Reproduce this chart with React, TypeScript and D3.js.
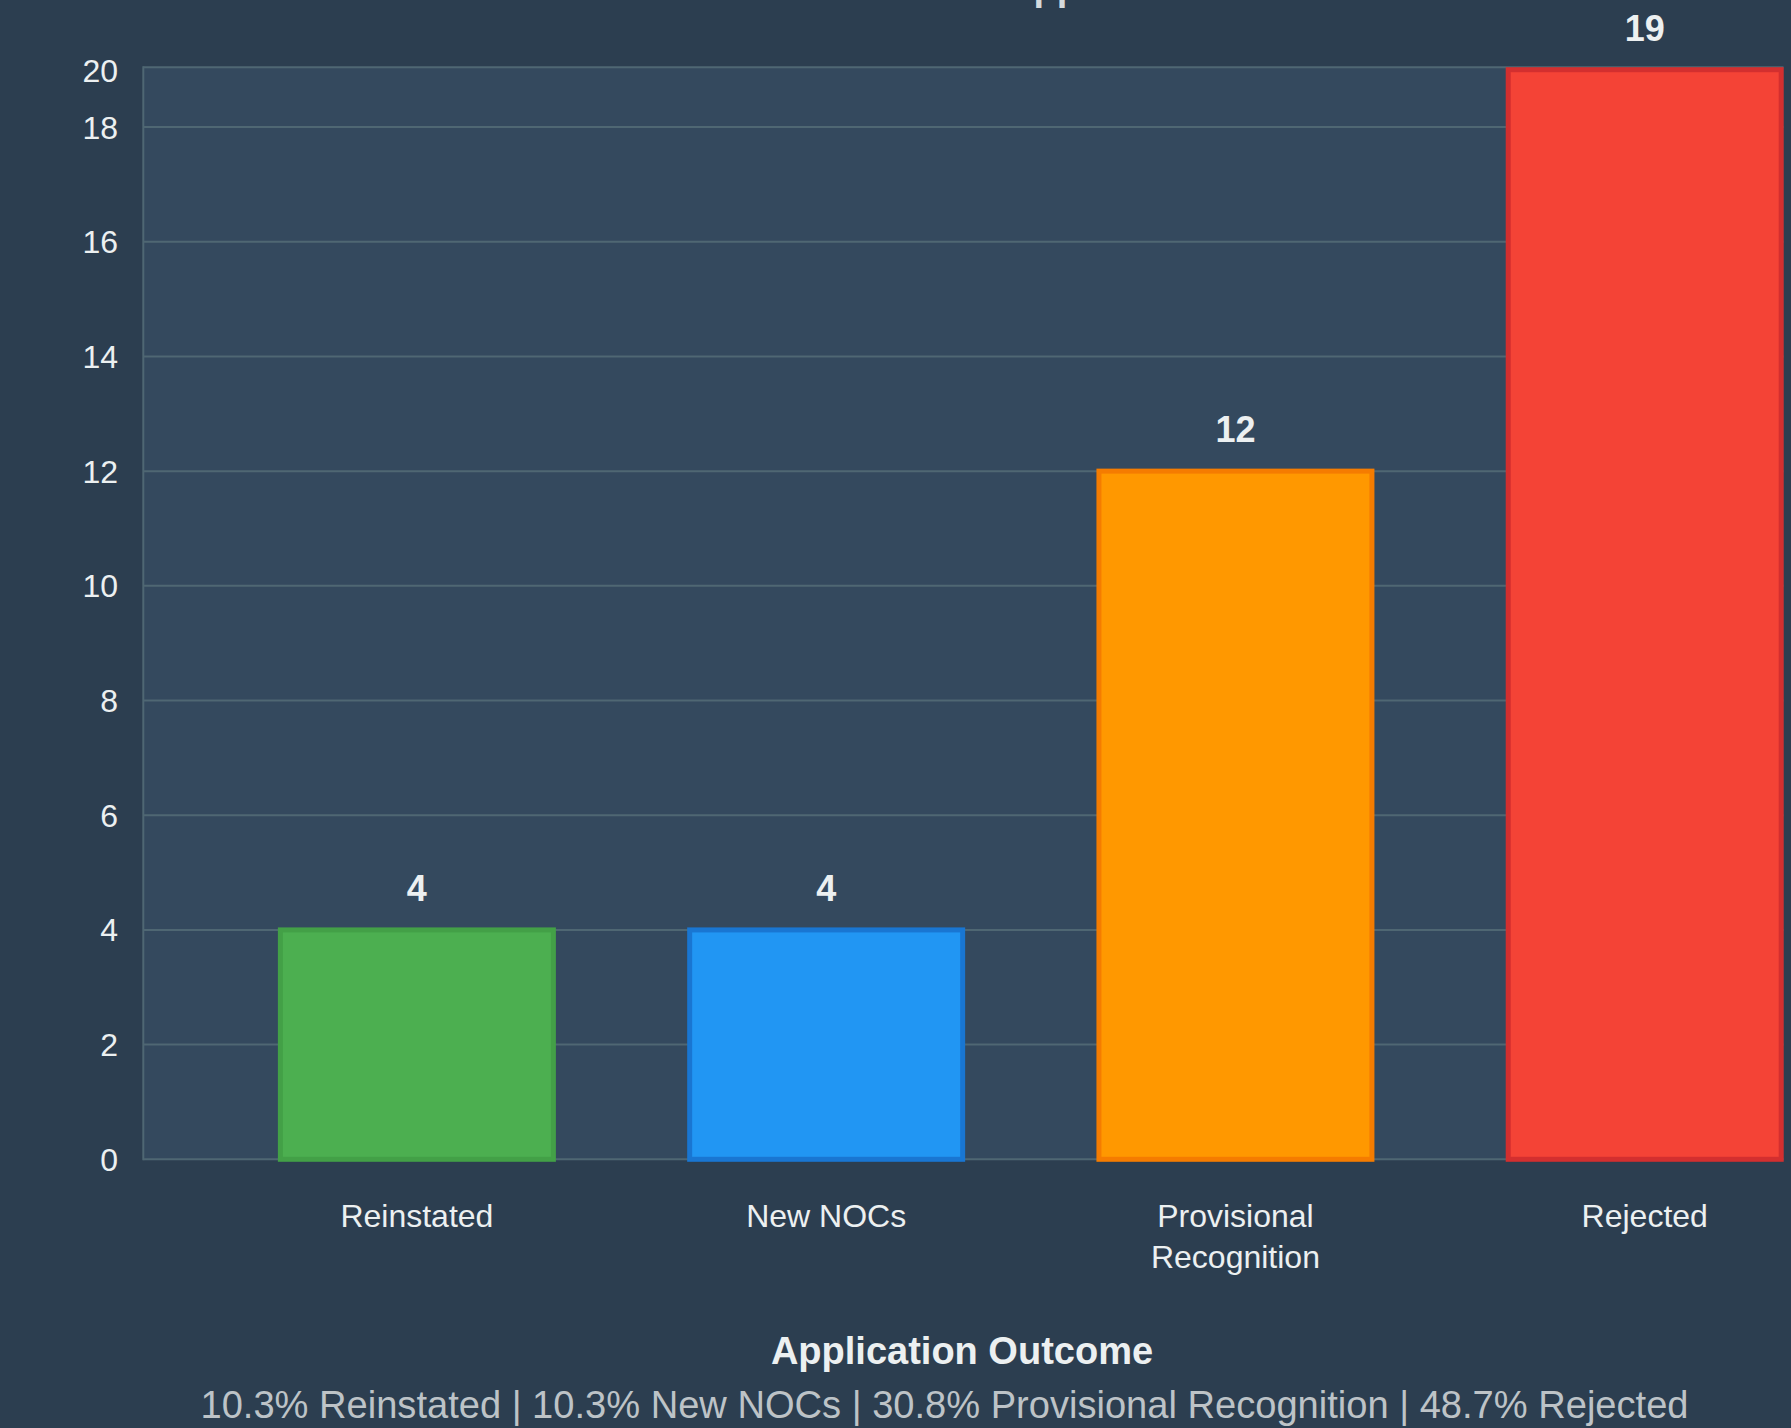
import React from "react";
import * as d3 from "d3";

const categories: string[][] = [["Reinstated"], ["New NOCs"], ["Provisional", "Recognition"], ["Rejected"]];
const values: number[] = [4, 4, 12, 19];
const fills: string[] = ["#4caf50", "#2196f3", "#ff9800", "#f44336"];
const strokes: string[] = ["#43a047", "#1976d2", "#f57c00", "#d32f2f"];
const yTickValues: number[] = [0, 2, 4, 6, 8, 10, 12, 14, 16, 18];
const yTopLabel = "20";
const titleText = "Outcome of Applications";
const axisTitle = "Application Outcome";
const summaryText = "10.3% Reinstated | 10.3% New NOCs | 30.8% Provisional Recognition | 48.7% Rejected";

const W = 1791;
const H = 1428;
const plotLeft = 143.3;
const plotRight = 1783.5;
const plotTop = 67.3;
const plotBottom = 1159.3;
const FONT = "'Liberation Sans', Arial, Helvetica, sans-serif";

export default function App() {
  const yMax = d3.max(values) as number;
  const y = d3.scaleLinear().domain([0, yMax]).range([plotBottom, 69.7]);
  const keys = categories.map((c) => c.join(" "));
  const x = d3
    .scaleBand<string>()
    .domain(keys)
    .range([212.25, 1849.35])
    .paddingInner(0.333)
    .paddingOuter(0.1665);
  const bw = x.bandwidth();
  const grid = "#4f6773";

  return (
    <svg
      width={W}
      height={H}
      style={{ position: "absolute", left: 0, top: 0, display: "block" }}
      fontFamily={FONT}
    >
      <rect x={0} y={0} width={W} height={H} fill="#2c3e50" />
      <text x={1010} y={0} textAnchor="middle" fontSize={38} fontWeight="bold" fill="#d5dadd">
        {titleText}
      </text>
      <rect x={plotLeft} y={plotTop} width={plotRight - plotLeft} height={plotBottom - plotTop} fill="#34495e" />
      {/* grid lines */}
      {yTickValues.map((t) => (
        <line key={t} x1={plotLeft} x2={plotRight} y1={y(t)} y2={y(t)} stroke={grid} strokeWidth={2} />
      ))}
      <line x1={plotLeft} x2={plotRight} y1={plotTop} y2={plotTop} stroke={grid} strokeWidth={2} />
      <line x1={plotLeft} x2={plotLeft} y1={plotTop - 1} y2={plotBottom + 1} stroke={grid} strokeWidth={2} />
      {/* y tick labels */}
      {yTickValues.map((t) => (
        <text key={t} x={118} y={y(t)} dy="0.36em" textAnchor="end" fontSize={32} fill="#ecf0f1">
          {t}
        </text>
      ))}
      <text x={118} y={plotTop + 3} dy="0.36em" textAnchor="end" fontSize={32} fill="#ecf0f1">
        {yTopLabel}
      </text>
      {/* bars */}
      {values.map((v, i) => {
        const bx = x(keys[i]) as number;
        return (
          <g key={i}>
            <rect
              x={bx}
              y={y(v)}
              width={bw}
              height={y(0) - y(v)}
              fill={fills[i]}
              stroke={strokes[i]}
              strokeWidth={5}
            />
            <text
              x={bx + bw / 2}
              y={y(v) - 29}
              textAnchor="middle"
              fontSize={36}
              fontWeight="bold"
              fill="#ecf0f1"
            >
              {v}
            </text>
          </g>
        );
      })}
      {/* category labels */}
      {categories.map((lines, i) => {
        const cx = (x(keys[i]) as number) + bw / 2;
        return (
          <text key={i} x={cx} y={1227} textAnchor="middle" fontSize={32} fill="#ecf0f1">
            {lines.map((l, j) => (
              <tspan key={j} x={cx} dy={j === 0 ? 0 : 41}>
                {l}
              </tspan>
            ))}
          </text>
        );
      })}
      <text x={962} y={1364} textAnchor="middle" fontSize={38} fontWeight="bold" fill="#ecf0f1">
        {axisTitle}
      </text>
      <text x={944.5} y={1418} textAnchor="middle" fontSize={38.1} fill="#bdc3c7">
        {summaryText}
      </text>
    </svg>
  );
}
